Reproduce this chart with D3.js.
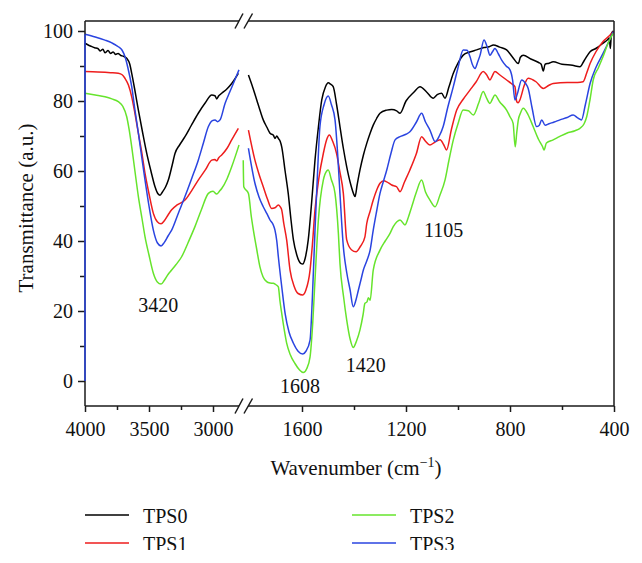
<!DOCTYPE html>
<html>
<head>
<meta charset="utf-8">
<script src="https://cdnjs.cloudflare.com/ajax/libs/d3/7.8.5/d3.min.js"></script>
<style>
	body { margin: 0; background: #fff; }
	svg { display: block; }
</style>
</head>
<body>
<script>

// series names and colours
var seriesNames = ['TPS0', 'TPS1', 'TPS2', 'TPS3'];
var seriesColors = ['#000000', '#ee1d1d', '#66e42c', '#2a44e0'];

// tick values for the broken x axis and the y axis
var xTicksHigh = [4000, 3500, 3000];
var xMinorHigh = [3750, 3250];
var xTicksLow = [1600, 1200, 800, 400];
var xMinorLow = [1400, 1000, 600];
var yTicks = [0, 20, 40, 60, 80, 100];
var yMinor = [10, 30, 50, 70, 90];

// peak labels: text, peak wavenumber
var peakLabels = [['3420', 3420], ['1608', 1608], ['1420', 1420], ['1105', 1105]];

// spectra, [wavenumber, transmittance], high range 4000-2800
var tps0High = [[4000,96.5],[3975,96.0],[3950,95.6],[3925,95.2],[3900,95.0],[3880,94.3],[3860,94.8],[3844,93.8],[3820,94.4],[3800,93.6],[3780,94.0],[3760,93.3],[3742,93.6],[3720,93.0],[3700,92.8],[3674,92.2],[3650,90.5],[3635,87.9],[3610,83],[3583,77.4],[3550,71],[3518,65.1],[3485,60],[3453,55.5],[3430,53.5],[3414,53.1],[3395,54],[3370,55.5],[3349,57.4],[3320,61.5],[3297,65],[3260,67.5],[3219,69.8],[3170,73],[3115,76.5],[3060,79.5],[3010,81.7],[2985,81.5],[2971,80.6],[2955,81.5],[2932,82.2],[2890,83.5],[2854,85],[2802,87.9]];
var tps1High = [[4000,88.4],[3900,88.3],[3800,88.1],[3740,87.9],[3710,87.5],[3688,86.5],[3660,84.5],[3635,81.2],[3610,76.5],[3583,70.8],[3555,65],[3531,59.3],[3500,53.5],[3466,47.9],[3435,45.5],[3406,44.9],[3380,45.8],[3350,47.5],[3323,48.9],[3280,50.3],[3219,51.7],[3170,54.2],[3115,57.4],[3060,60.3],[3010,63.1],[2985,63.3],[2971,62.9],[2955,63.8],[2932,64.6],[2890,66.5],[2854,68.9],[2802,72.2]];
var tps2High = [[4000,82.2],[3920,81.7],[3844,81.2],[3790,80.6],[3740,79.8],[3705,78.5],[3674,75.5],[3655,71.8],[3635,66.9],[3610,60],[3583,52.7],[3555,46.5],[3531,41.2],[3500,36],[3466,30.8],[3435,28.3],[3406,27.7],[3380,28.8],[3350,30.5],[3323,31.7],[3290,33.2],[3245,35.5],[3195,39.5],[3141,44.1],[3090,49],[3036,53.6],[3000,54.2],[2971,53.4],[2950,54.2],[2932,55],[2890,57.8],[2854,61.2],[2797,67.4]];
var tps3High = [[4000,99.1],[3920,98.3],[3844,97.4],[3790,96.6],[3740,95.5],[3710,94.5],[3688,92.7],[3665,89.5],[3635,84.1],[3610,77.5],[3583,70.8],[3555,63.5],[3531,57.4],[3500,50],[3466,43.1],[3435,39.5],[3406,38.6],[3380,39.6],[3350,41.5],[3323,43.1],[3270,48],[3219,52.7],[3165,58],[3115,63.1],[3075,68],[3036,72.7],[3005,74.4],[2984,74.6],[2965,74.1],[2945,74.6],[2906,79.3],[2870,82.5],[2841,85],[2797,88.9]];

// low range 1830-400
var tps0Low = [[1806,87.4],[1790,84],[1774,80.3],[1760,77],[1749,74.6],[1735,72.5],[1723,70.8],[1710,70.2],[1704,69.3],[1697,70],[1691,69.3],[1684,68.5],[1678,66.9],[1665,60],[1653,53.6],[1643,46.5],[1633,40.3],[1620,36],[1605,33.6],[1597,33.4],[1588,35],[1576,40.3],[1563,51],[1550,63.1],[1537,72.5],[1524,80.3],[1510,84],[1499,85.2],[1490,84.8],[1480,84.1],[1467,79],[1454,72.7],[1441,66.5],[1428,61.2],[1412,56],[1400,53.2],[1396,52.7],[1388,56],[1377,60.3],[1364,64.5],[1351,67.9],[1338,70.8],[1326,73.1],[1313,75],[1300,76.5],[1274,77.4],[1255,77.6],[1236,77.2],[1223,76.5],[1200,80],[1170,82.5],[1146,84.1],[1120,82.5],[1095,80.8],[1080,81.8],[1063,82.2],[1050,80.8],[1035,84],[1018,87.9],[1000,90.8],[980,93.1],[955,94],[928,94.6],[900,95.3],[880,95.5],[864,96],[840,95.4],[813,94.6],[790,92.5],[768,90.7],[760,92.5],[749,93.1],[720,92],[690,91],[680,90.5],[672,88.6],[665,90.5],[650,90.8],[634,91.2],[600,90.5],[560,90.2],[531,89.8],[515,91.5],[492,94.1],[470,95],[442,96.5],[425,97.5],[418,98],[414,95],[410,99.3],[402,100]];
var tps1Low = [[1806,71.7],[1781,63.1],[1765,59],[1749,55.5],[1733,52],[1717,49.3],[1704,49.5],[1691,50.3],[1684,49.8],[1678,48.9],[1670,45],[1659,40.3],[1646,31.7],[1630,27],[1615,25],[1597,24.6],[1585,26],[1569,31.7],[1560,39],[1550,48.9],[1535,58],[1518,65],[1505,69],[1495,70.3],[1482,68.5],[1467,65],[1455,60],[1441,53.6],[1428,40.3],[1410,37.5],[1392,36.9],[1375,38.5],[1358,41.2],[1351,45],[1338,48.5],[1326,51.7],[1313,54.5],[1300,56.5],[1285,57.2],[1274,56.9],[1255,56],[1236,55.5],[1223,54.1],[1205,57],[1185,60.3],[1160,65],[1140,69.8],[1125,68.5],[1108,67.4],[1090,68.2],[1069,68.9],[1055,67.5],[1044,66],[1025,72],[1005,77.4],[980,80.5],[954,83.1],[930,85.5],[903,88.4],[890,87.5],[877,86],[868,87.2],[858,88.4],[840,87.5],[813,86],[795,85],[781,84.1],[774,79.8],[768,79.5],[762,80.3],[745,84.5],[730,86.5],[700,85.5],[672,83.6],[650,84.5],[634,85],[580,85.3],[540,85.3],[519,85.5],[505,88],[492,90.7],[470,94],[442,97],[420,98.5],[403,99.8]];
var tps2Low = [[1826,63.1],[1824,55.5],[1806,53.6],[1795,47],[1787,43.1],[1775,38],[1762,32.7],[1750,29.8],[1736,28.4],[1723,28],[1710,27.9],[1700,27.5],[1691,26.9],[1685,23],[1678,19.3],[1668,14.5],[1659,10.8],[1645,7.5],[1627,5],[1610,3.2],[1595,2.4],[1582,3.5],[1569,6.9],[1560,15],[1550,28.9],[1537,46],[1518,57.4],[1505,60],[1499,60.3],[1487,57.5],[1473,53.6],[1460,42.1],[1454,33.6],[1440,24],[1428,17.4],[1415,12],[1403,9.6],[1390,11.5],[1377,14.6],[1365,19],[1358,22.2],[1350,22.6],[1345,23.8],[1338,23.1],[1326,31.7],[1300,37.4],[1280,40],[1262,42.1],[1249,44.1],[1235,45.5],[1223,46],[1204,44.6],[1190,47],[1178,49.8],[1160,54],[1140,57.4],[1125,54],[1108,51.7],[1088,49.8],[1070,53],[1050,57.4],[1035,63],[1018,68.9],[1000,73.5],[980,77.4],[960,77.2],[941,76],[920,79.5],[903,82.7],[890,80.8],[877,79.3],[868,80.5],[858,81.7],[840,79.8],[813,77.4],[800,75.5],[788,73.6],[780,66.9],[774,71],[768,74.6],[760,76.5],[749,77.9],[730,76],[711,72.7],[690,69],[675,67],[669,66],[660,68],[634,68.9],[610,69.8],[582,70.8],[550,71.5],[531,72.2],[515,73.5],[505,75.5],[492,80.5],[480,86],[460,89.5],[442,92.7],[420,97],[403,99.3]];
var tps3Low = [[1806,66.5],[1781,56.5],[1765,52.5],[1749,49.8],[1735,47.8],[1723,46],[1710,44.5],[1704,43.1],[1697,40],[1691,35.5],[1678,27],[1665,19.3],[1650,14],[1633,10.8],[1615,8.5],[1597,7.7],[1585,8.5],[1569,11.7],[1560,24],[1550,43.1],[1540,60],[1531,72.7],[1515,79],[1499,81.4],[1487,79],[1473,74.6],[1463,65],[1454,53.6],[1441,38.4],[1428,31],[1415,26],[1403,21.2],[1393,23],[1383,26],[1373,29],[1364,31.7],[1350,34.5],[1338,37.4],[1326,43.1],[1313,48.5],[1300,53.6],[1287,57],[1274,60.3],[1258,65],[1242,68.9],[1223,69.8],[1200,70.5],[1185,71.2],[1160,74],[1140,76.5],[1125,74],[1108,71.7],[1088,68.4],[1072,70],[1057,72.7],[1040,78],[1018,84.1],[1000,89.5],[980,94.6],[965,94.5],[954,92.7],[945,90.5],[934,89.3],[925,91],[915,93.1],[900,97.4],[888,95.5],[877,93.1],[868,94],[858,95],[845,93.5],[832,91.7],[815,90],[800,88.9],[790,86],[781,80.3],[772,82],[755,86],[740,85],[730,83.6],[715,78],[698,72.7],[688,73],[678,74.6],[665,73.1],[650,73.5],[630,74],[608,74.6],[580,75.3],[557,76],[540,75.2],[525,74.6],[510,79],[492,85],[470,89.5],[442,93.6],[420,97],[403,99.8]];

// TPS3 starts with a vertical jump at 4000
var tps3Edge = [[4000,0],[4000,99.1]];

(function(window, document, undefined){

	var width = 642, height = 563;
	var serif = '"Liberation Serif", "DejaVu Serif", serif';

	// plot frame in pixels
	var left = 85, right = 614, top = 21, bottom = 406;
	// break gap on x
	var gapL = 239, gapR = 248;

	var svg = d3.select('body')
				.append('svg')
				.attr('width', width)
				.attr('height', height)
				.attr('font-family', serif);

	// two linear scales for the broken axis
	var xHigh = d3.scaleLinear().domain([4000, 2800]).range([left, 238.6]);
	var xLow = d3.scaleLinear().domain([1600, 400]).range([302, right]);
	var y = d3.scaleLinear().domain([0, 100]).range([381, 31]);

	var highSets = [tps0High, tps1High, tps2High, tps3High];
	var lowSets = [tps0Low, tps1Low, tps2Low, tps3Low];

	// spectra lines, drawn first so the frame sits on top
	var lineHigh = d3.line().x(function(d){ return xHigh(d[0]); }).y(function(d){ return y(d[1]); }).curve(d3.curveMonotoneX);
	var lineLow = d3.line().x(function(d){ return xLow(d[0]); }).y(function(d){ return y(d[1]); }).curve(d3.curveMonotoneX);
	var lineEdge = d3.line().x(function(d){ return xHigh(d[0]); }).y(function(d){ return y(d[1]); });

	var plot = svg.append('g').attr('fill', 'none').attr('stroke-width', 1.5).attr('stroke-linejoin', 'round');

	// draw order: black, red, blue, green
	[0, 1, 3, 2].forEach(function(i){
		plot.append('path').attr('d', lineHigh(highSets[i])).attr('stroke', seriesColors[i]);
		plot.append('path').attr('d', lineLow(lowSets[i])).attr('stroke', seriesColors[i]);
	});

	// frame lines with break on top and bottom
	var frame = svg.append('g').attr('stroke', '#1a1a1a').attr('stroke-width', 1.5).attr('fill', 'none');
	[top, bottom].forEach(function(yy){
		frame.append('line').attr('x1', left).attr('x2', gapL).attr('y1', yy).attr('y2', yy);
		frame.append('line').attr('x1', gapR).attr('x2', right).attr('y1', yy).attr('y2', yy);
		// two slashes
		frame.append('line').attr('x1', 235).attr('y1', yy + 7.5).attr('x2', 243).attr('y2', yy - 7.5);
		frame.append('line').attr('x1', 244).attr('y1', yy + 7.5).attr('x2', 252.5).attr('y2', yy - 7.5);
	});
	frame.append('line').attr('x1', right).attr('x2', right).attr('y1', top).attr('y2', bottom);
	frame.append('line').attr('x1', left).attr('x2', left).attr('y1', top).attr('y2', bottom);

	// x axes, major and minor ticks
	function xAxis(scale, major, minor) {
		var g = svg.append('g').attr('transform', 'translate(0,' + bottom + ')');
		g.call(d3.axisBottom(scale).tickValues(major).tickSize(6).tickSizeOuter(0).tickPadding(10).tickFormat(d3.format('d')));
		g.attr('font-family', serif);
		g.select('.domain').remove();
		g.selectAll('line').attr('stroke', '#1a1a1a').attr('stroke-width', 1.5);
		g.selectAll('text').attr('font-size', 20).attr('fill', '#111');
		var m = svg.append('g').attr('transform', 'translate(0,' + bottom + ')');
		m.call(d3.axisBottom(scale).tickValues(minor).tickSize(4).tickFormat(''));
		m.select('.domain').remove();
		m.selectAll('line').attr('stroke', '#1a1a1a').attr('stroke-width', 1.5);
	}
	xAxis(xHigh, xTicksHigh, xMinorHigh);
	xAxis(xLow, xTicksLow, xMinorLow);

	// y axis
	var gy = svg.append('g').attr('transform', 'translate(' + left + ',0)');
	gy.call(d3.axisLeft(y).tickValues(yTicks).tickSize(7).tickPadding(5));
	gy.attr('font-family', serif);
	gy.select('.domain').remove();
	gy.selectAll('line').attr('stroke', '#1a1a1a').attr('stroke-width', 1.5);
	gy.selectAll('text').attr('font-size', 20).attr('fill', '#111');
	var gyMinor = svg.append('g').attr('transform', 'translate(' + left + ',0)');
	gyMinor.call(d3.axisLeft(y).tickValues(yMinor).tickSize(5).tickFormat(''));
	gyMinor.select('.domain').remove();
	gyMinor.selectAll('line').attr('stroke', '#1a1a1a').attr('stroke-width', 1.5);

	// TPS3 vertical edge drawn over the y axis line
	svg.append('path').attr('d', lineEdge(tps3Edge)).attr('stroke', seriesColors[3]).attr('stroke-width', 1.5).attr('fill', 'none');

	// axis titles
	svg.append('text')
		.attr('transform', 'translate(33,208) rotate(-90)')
		.attr('text-anchor', 'middle')
		.attr('font-size', 21)
		.attr('fill', '#111')
		.text('Transmittance (a.u.)');

	var xt = svg.append('text')
		.attr('x', 356).attr('y', 475)
		.attr('text-anchor', 'middle')
		.attr('font-size', 21)
		.attr('fill', '#111');
	xt.append('tspan').text('Wavenumber (cm');
	xt.append('tspan').attr('font-size', 14).attr('dy', -8).text('\u22121');
	xt.append('tspan').attr('dy', 8).text(')');

	// peak annotations, offsets in pixels from the peak position
	var peakOffsets = { '3420': [-1, 312], '1608': [0, 393], '1420': [17, 372], '1105': [13, 237] };
	svg.selectAll('.peak')
		.data(peakLabels)
		.enter().append('text')
		.attr('class', 'peak')
		.attr('x', function(d){ return (d[1] > 2000 ? xHigh(d[1]) : xLow(d[1])) + peakOffsets[d[0]][0]; })
		.attr('y', function(d){ return peakOffsets[d[0]][1]; })
		.attr('text-anchor', 'middle')
		.attr('font-size', 20)
		.attr('fill', '#111')
		.text(function(d){ return d[0]; });

	// legend, two columns, clipped at the bottom like the source figure
	svg.append('clipPath').attr('id', 'legclip')
		.append('rect').attr('x', 0).attr('y', 490).attr('width', width).attr('height', 60);

	var legendPos = [[85, 515], [85, 543], [352, 515], [352, 543]];
	var legend = svg.append('g').attr('clip-path', 'url(#legclip)');
	seriesNames.forEach(function(name, i){
		var p = legendPos[i];
		legend.append('line')
			.attr('x1', p[0]).attr('x2', p[0] + 44)
			.attr('y1', p[1]).attr('y2', p[1])
			.attr('stroke', seriesColors[i]).attr('stroke-width', 1.5);
		legend.append('text')
			.attr('x', p[0] + 58).attr('y', p[1] + 8)
			.attr('font-size', 20)
			.attr('fill', '#111')
			.text(name);
	});

})(this, document);
</script>
</body>
</html>
